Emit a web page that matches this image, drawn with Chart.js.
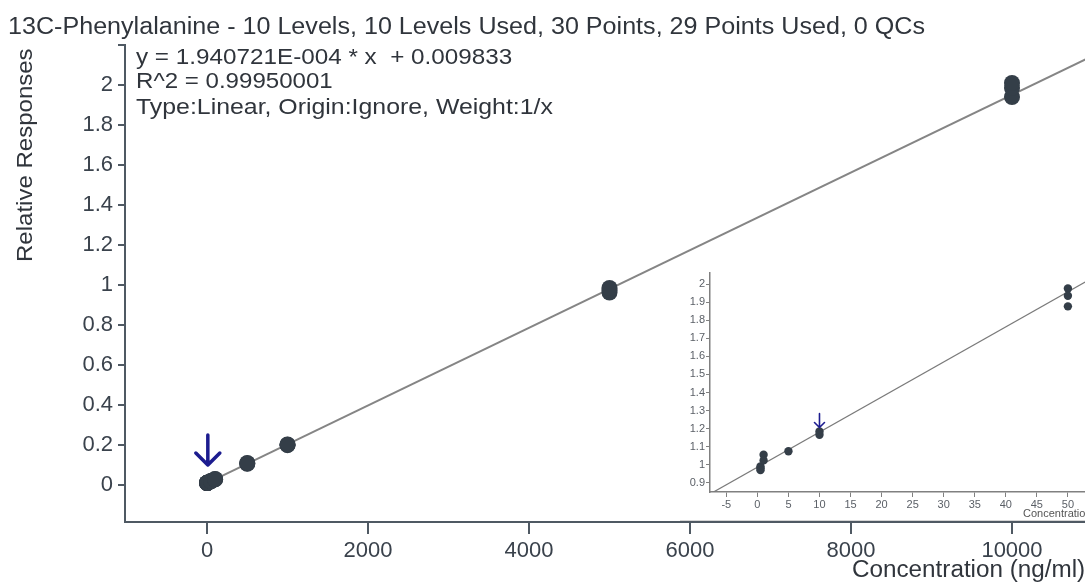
<!DOCTYPE html>
<html>
<head>
<meta charset="utf-8">
<script src="https://cdn.jsdelivr.net/npm/chart.js@4.4.0/dist/chart.umd.min.js"></script>
<style>
html,body{margin:0;padding:0;background:#fff;overflow:hidden;width:1085px;height:583px;}
#wrap{position:relative;width:1085px;height:583px;overflow:hidden;background:#fff;}
.t{position:absolute;white-space:nowrap;font-family:"Liberation Sans",Arial,sans-serif;color:#30353c;line-height:1;transform-origin:0 0;}
#inset{position:absolute;left:680px;top:265px;width:460px;height:255px;background:#fff;border-bottom:1px solid #d6d6d6;}
#inset canvas{display:block;}
</style>
</head>
<body>
<div id="wrap">
  <canvas id="main" width="1085" height="583" style="position:absolute;left:0;top:0"></canvas>
  <div id="inset"><canvas id="ins" width="460" height="255"></canvas></div>
  <div class="t" data-w="917" style="left:8px;top:15px;font-size:23px">13C-Phenylalanine - 10 Levels, 10 Levels Used, 30 Points, 29 Points Used, 0 QCs</div>
  <div class="t" data-w="376" style="left:136px;top:46px;font-size:22px">y = 1.940721E-004 * x&nbsp; + 0.009833</div>
  <div class="t" data-w="197" style="left:136px;top:70px;font-size:22px">R^2 = 0.99950001</div>
  <div class="t" data-w="417" style="left:136px;top:96px;font-size:22px">Type:Linear, Origin:Ignore, Weight:1/x</div>
  <div class="t" id="ytitle" data-w="214" data-rot="1" style="left:14px;top:262px;font-size:22px;">Relative Responses</div>
  <div class="t" data-w="233" style="left:852px;top:558px;font-size:23px">Concentration (ng/ml)</div>
  <div class="t" style="left:1023px;top:508px;font-size:11px;color:#555">Concentration (ng/ml)</div>
</div>
<script>
// ---------- data ----------
const levels = [0.5, 1, 5, 10, 50, 100, 500, 1000, 5000, 10000];
const mainX = [0.5,0.5,0.5, 1,1,1, 5,5,5, 10,10,10, 50,50,50, 100,100,100, 500,500,500, 1000,1000,1000, 5000,5000,5000, 10000,10000,10000];
const mainY = [0.010,0.010,0.010, 0.010,0.010,0.011, 0.011,0.011,0.011, 0.012,0.012,0.012, 0.019,0.020,0.020, 0.028,0.029,0.030, 0.106,0.108,0.110, 0.199,0.201,0.203, 0.962,0.975,0.985, 1.940,1.985,2.010];
const fitX = [0, 11000];
const fitY = [0.0098, 2.1446];
const mainXTicks = [0, 2000, 4000, 6000, 8000, 10000];
const mainYTicks = [0, 0.2, 0.4, 0.6, 0.8, 1, 1.2, 1.4, 1.6, 1.8, 2, 2.2];

const insetX = [0.5, 0.5, 0.5, 1, 1, 5, 10, 10, 50, 50, 50];
const insetY = [0.990, 0.980, 0.970, 1.055, 1.024, 1.075, 1.184, 1.166, 1.976, 1.936, 1.877];
const insetFitX = [-7.63, 60];
const insetFitY = [0.838, 2.152];
const insetXTicks = [-5, 0, 5, 10, 15, 20, 25, 30, 35, 40, 45, 50, 55, 60];
const insetYTicks = [0.9, 1, 1.1, 1.2, 1.3, 1.4, 1.5, 1.6, 1.7, 1.8, 1.9, 2];

const arrowLevel = 10;
const mainArrowY = [0.25, 0.10];
const insetArrowY = [1.283, 1.206];

// ---------- stretch text to the reference widths ----------
document.querySelectorAll('.t[data-w]').forEach(el => {
  const target = +el.dataset.w;
  const w = el.offsetWidth;
  const k = (target / w).toFixed(4);
  if (el.dataset.rot) {
    el.style.transform = 'rotate(-90deg) scaleX(' + k + ')';
  } else {
    el.style.transform = 'scaleX(' + k + ')';
  }
});

const pts = (xs, ys) => xs.map((x, i) => ({x, y: ys[i]}));
const fmt = v => String(+v.toFixed(1));

function arrowPlugin(yVals, head, lw) {
  return {
    id: 'arrow',
    afterDatasetsDraw(chart) {
      const {ctx, scales} = chart;
      const x = scales.x.getPixelForValue(arrowLevel);
      const y0 = scales.y.getPixelForValue(yVals[0]);
      const y1 = scales.y.getPixelForValue(yVals[1]);
      ctx.save();
      ctx.strokeStyle = '#1c1c8f';
      ctx.lineWidth = lw;
      ctx.lineCap = 'round';
      ctx.lineJoin = 'round';
      ctx.beginPath();
      ctx.moveTo(x, y0); ctx.lineTo(x, y1);
      ctx.moveTo(x - head, y1 - head); ctx.lineTo(x, y1); ctx.lineTo(x + head, y1 - head);
      ctx.stroke();
      ctx.restore();
    }
  };
}

const font = {family: '"Liberation Sans", Arial, sans-serif', size: 22};
const axisCol = '#4f5963';

new Chart(document.getElementById('main'), {
  type: 'scatter',
  data: {
    datasets: [
      {data: pts(fitX, fitY), showLine: true, borderColor: '#858585', borderWidth: 2, pointRadius: 0, order: 2},
      {data: pts(mainX, mainY), backgroundColor: '#343e48', borderWidth: 0, pointRadius: 8, order: 1}
    ]
  },
  options: {
    responsive: false, animation: false, devicePixelRatio: 1,
    layout: {autoPadding: false, padding: {top: 45, right: 0, bottom: 0, left: 0}},
    plugins: {legend: {display: false}, tooltip: {enabled: false}, title: {display: false}},
    scales: {
      x: {
        type: 'linear', min: -1019, max: 10907,
        afterBuildTicks: s => { s.ticks = mainXTicks.map(v => ({value: v})); },
        afterFit: s => { s.height = 61; },
        grid: {drawOnChartArea: false, drawTicks: true, tickLength: 12, color: axisCol, lineWidth: 2},
        border: {display: true, color: axisCol, width: 2},
        ticks: {font, color: '#3a424c', padding: 4, maxRotation: 0, autoSkip: false, callback: v => String(v)}
      },
      y: {
        type: 'linear', min: -0.185, max: 2.2,
        afterBuildTicks: s => { s.ticks = mainYTicks.map(v => ({value: v})); },
        afterFit: s => { s.width = 125; },
        grid: {drawOnChartArea: false, drawTicks: true, tickLength: 7, color: axisCol, lineWidth: 2},
        border: {display: true, color: axisCol, width: 2},
        ticks: {font, color: '#3a424c', padding: 5, autoSkip: false, callback: v => v > 2.1 ? '' : fmt(v)}
      }
    }
  },
  plugins: [arrowPlugin(mainArrowY, 12, 3.5)]
});

const sfont = {family: '"Liberation Sans", Arial, sans-serif', size: 11};
const insCol = '#808080';
new Chart(document.getElementById('ins'), {
  type: 'scatter',
  data: {
    datasets: [
      {data: pts(insetFitX, insetFitY), showLine: true, borderColor: '#7a7a7a', borderWidth: 1.2, pointRadius: 0, order: 2},
      {data: pts(insetX, insetY), backgroundColor: '#343e48', borderWidth: 0, pointRadius: 4.2, order: 1}
    ]
  },
  options: {
    responsive: false, animation: false, devicePixelRatio: 1,
    layout: {autoPadding: false, padding: {top: 7, right: 10, bottom: 0, left: 0}},
    plugins: {legend: {display: false}, tooltip: {enabled: false}},
    scales: {
      x: {
        type: 'linear', min: -7.63, max: 60,
        afterBuildTicks: s => { s.ticks = insetXTicks.map(v => ({value: v})); },
        afterFit: s => { s.height = 28; },
        grid: {drawOnChartArea: false, drawTicks: true, tickLength: 5, color: insCol, lineWidth: 1},
        border: {display: true, color: insCol, width: 1.5},
        ticks: {font: sfont, color: '#5a5f66', padding: 1, maxRotation: 0, autoSkip: false, callback: v => String(v)}
      },
      y: {
        type: 'linear', min: 0.849, max: 2.064,
        afterBuildTicks: s => { s.ticks = insetYTicks.map(v => ({value: v})); },
        afterFit: s => { s.width = 30; },
        grid: {drawOnChartArea: false, drawTicks: true, tickLength: 4, color: insCol, lineWidth: 1},
        border: {display: true, color: insCol, width: 1.5},
        ticks: {font: sfont, color: '#5a5f66', padding: 1, autoSkip: false, callback: v => fmt(v)}
      }
    }
  },
  plugins: [arrowPlugin(insetArrowY, 5, 1.6)]
});
</script>
</body>
</html>
